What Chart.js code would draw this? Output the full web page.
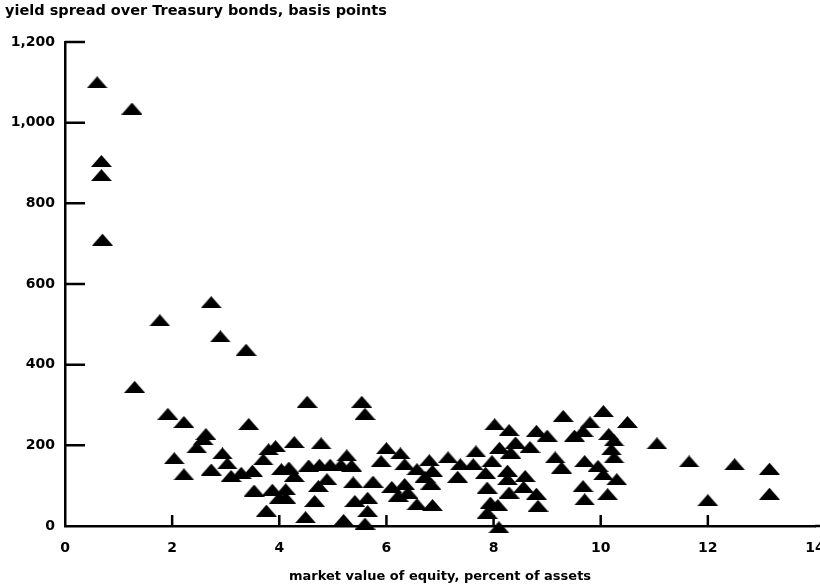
<!DOCTYPE html>
<html>
<head>
<meta charset="utf-8">
<script src="https://cdn.jsdelivr.net/npm/chart.js@4/dist/chart.umd.min.js"></script>
<style>
  html, body { margin: 0; padding: 0; background: #fff; }
  #wrap { width: 820px; height: 587px; }
</style>
</head>
<body>
<div id="wrap"><canvas id="c" width="820" height="587"></canvas></div>
<script>
// Market value of equity (percent of assets) for each bank
const equityPct = [
  0.60, 1.25, 0.68, 0.68, 0.70, 2.73, 1.77, 2.90, 3.38, 1.30,
  1.92, 2.22, 3.43, 2.63, 2.58, 2.46, 2.94, 2.04, 3.93, 3.70,
  2.73, 3.03, 2.22, 3.10, 3.29, 3.50, 4.04, 3.53, 3.87, 4.00, 3.76,
  4.52, 5.54, 5.60, 4.28, 4.78, 3.80, 5.26, 6.00, 6.26, 5.90, 6.80, 7.15,
  4.18, 4.55, 4.75, 4.95, 5.15, 5.35, 6.34, 6.57, 4.28, 5.38, 5.75, 4.89,
  6.10, 6.34, 6.72, 6.83, 4.12, 4.73, 4.12, 4.66, 5.41, 5.65, 6.22, 6.40,
  6.57, 6.86, 5.65, 4.49, 5.20, 5.60,
  9.30, 10.05, 8.02, 8.29, 8.80, 9.00, 9.51, 9.80, 9.67, 10.15,
  8.41, 8.68, 8.11, 8.32, 7.67, 7.38, 7.62, 7.97, 7.85, 6.86, 7.33,
  8.26, 8.59, 8.26, 9.15, 9.27, 9.70, 9.95, 10.05, 7.88, 8.29, 8.56,
  8.80, 9.67, 9.70, 10.13, 7.94, 8.08, 7.88, 8.83, 8.10,
  10.50, 10.25, 10.20, 10.25, 11.05, 11.65, 12.50, 13.15, 13.15, 12.00, 10.30
];

// Yield spread over Treasury bonds (basis points), same order
const spreadBp = [
  1100, 1035, 905, 870, 710, 555, 510, 470, 437, 345,
  278, 258, 253, 228, 215, 195, 180, 168, 198, 165,
  140, 155, 128, 124, 132, 137, 141, 88, 90, 70, 38,
  308, 308, 278, 208, 205, 190, 175, 193, 180, 161, 163, 170,
  145, 150, 152, 152, 152, 150, 153, 141, 124, 108, 110, 116,
  97, 104, 122, 105, 91, 99, 70, 62, 62, 70, 75, 83,
  54, 52, 37, 22, 15, 6,
  273, 285, 252, 238, 236, 224, 224, 257, 236, 228,
  207, 196, 194, 182, 185, 153, 153, 161, 132, 137, 122,
  137, 124, 116, 170, 145, 161, 149, 128, 95, 83, 97,
  80, 99, 66, 79, 58, 52, 33, 50, -3,
  258, 212, 190, 170, 205, 160, 153, 142, 80, 64, 116
];

// Axis ranges and tick spacing
const xTicks = [0, 2, 4, 6, 8, 10, 12, 14];
const yTicks = [0, 200, 400, 600, 800, 1000, 1200];

const titleText = 'yield spread over Treasury bonds, basis points';
const xTitleText = 'market value of equity, percent of assets';

// Flat, wide filled triangle used as the point marker
function makeTriangle(w, h) {
  const cv = document.createElement('canvas');
  cv.width = w; cv.height = h;
  const g = cv.getContext('2d');
  g.fillStyle = '#000';
  g.beginPath();
  g.moveTo(w / 2, 0);
  g.lineTo(w, h);
  g.lineTo(0, h);
  g.closePath();
  g.fill();
  return cv;
}
const marker = makeTriangle(21, 12);

// Inward tick marks on both axes, plus the x axis running to the edge
const innerTicks = {
  id: 'innerTicks',
  afterDraw(chart) {
    const { ctx, chartArea, scales } = chart;
    const x = scales.x, y = scales.y;
    ctx.save();
    ctx.strokeStyle = '#000';
    ctx.lineWidth = 2.5;
    ctx.beginPath();
    yTicks.forEach(v => {
      if (v === 0) return;
      const py = y.getPixelForValue(v);
      ctx.moveTo(chartArea.left, py);
      ctx.lineTo(chartArea.left + 20, py);
    });
    xTicks.forEach(v => {
      if (v === 0 || v === 14) return;
      const px = x.getPixelForValue(v);
      ctx.moveTo(px, chartArea.bottom);
      ctx.lineTo(px, chartArea.bottom - 11);
    });
    ctx.moveTo(chartArea.right, chartArea.bottom);
    ctx.lineTo(chart.width, chartArea.bottom);
    ctx.stroke();
    ctx.restore();
  }
};

const points = equityPct.map((v, i) => ({ x: v, y: spreadBp[i] }));

new Chart(document.getElementById('c'), {
  type: 'scatter',
  data: {
    datasets: [{
      data: points,
      pointStyle: marker,
      backgroundColor: '#000',
      borderColor: '#000',
      clip: false
    }]
  },
  plugins: [innerTicks],
  options: {
    responsive: false,
    animation: false,
    events: [],
    layout: { padding: { left: 5, right: 5, top: 0, bottom: 0 } },
    plugins: {
      legend: { display: false },
      tooltip: { enabled: false },
      title: {
        display: true,
        text: titleText,
        align: 'start',
        color: '#000',
        font: { family: 'DejaVu Sans', weight: 'bold', size: 14.5 },
        padding: { top: 3, bottom: 21.6 }
      }
    },
    scales: {
      x: {
        type: 'linear',
        min: xTicks[0],
        max: xTicks[xTicks.length - 1],
        afterBuildTicks(s) { s.ticks = xTicks.map(v => ({ value: v })); },
        afterFit(s) { s.height = 61; s.paddingLeft = 0; s.paddingRight = 0; },
        grid: { display: false, drawTicks: false },
        border: { display: true, color: '#000', width: 2.5 },
        ticks: {
          color: '#000',
          padding: 14,
          maxRotation: 0,
          autoSkip: false,
          font: { family: 'DejaVu Sans', weight: 'bold', size: 14 }
        },
        title: {
          display: true,
          text: xTitleText,
          color: '#000',
          font: { family: 'DejaVu Sans', weight: 'bold', size: 13 },
          padding: { top: 0, bottom: 3 }
        }
      },
      y: {
        type: 'linear',
        min: yTicks[0],
        max: yTicks[yTicks.length - 1],
        afterBuildTicks(s) { s.ticks = yTicks.map(v => ({ value: v })); },
        afterFit(s) { s.width = 60; s.paddingTop = 0; s.paddingBottom = 0; },
        grid: { display: false, drawTicks: false },
        border: { display: true, color: '#000', width: 2.5 },
        ticks: {
          color: '#000',
          padding: 10,
          autoSkip: false,
          font: { family: 'DejaVu Sans', weight: 'bold', size: 14 }
        }
      }
    }
  }
});
</script>
</body>
</html>
